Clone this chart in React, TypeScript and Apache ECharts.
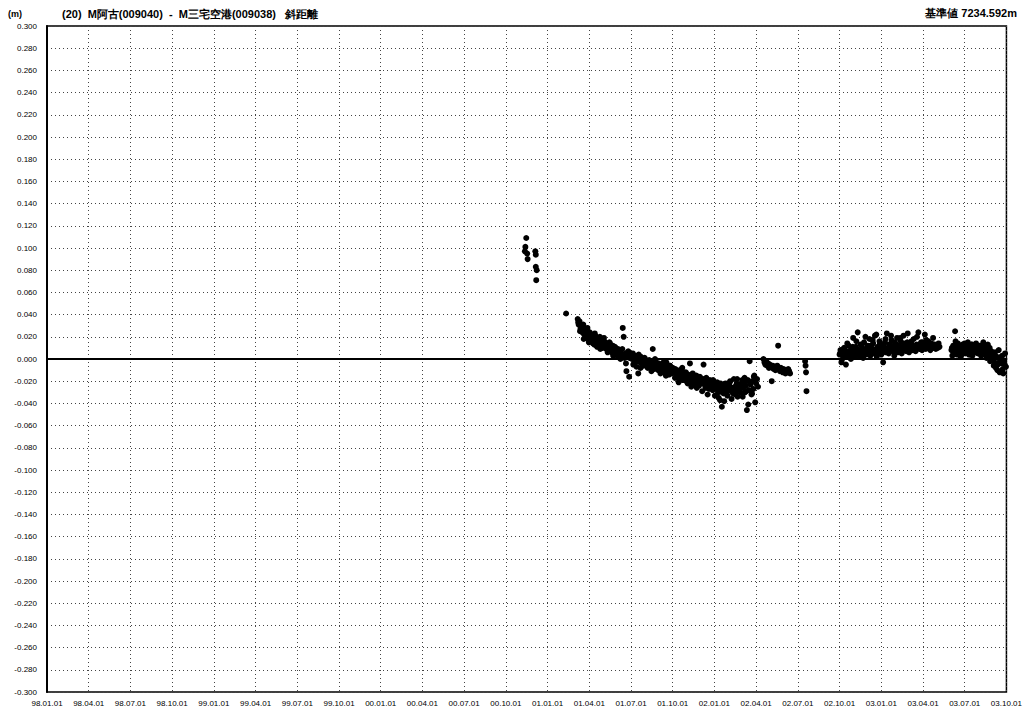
import React, { useEffect, useRef } from "react";
import * as echarts from "echarts";

// ---- Text ----
const TITLE = "(20)  M阿古(009040)  -  M三宅空港(009038)   斜距離";
const REFERENCE = "基準値 7234.592m";
const UNIT = "(m)";

// ---- X tick labels (quarterly, 98.01.01 .. 03.10.01) ----
const TICK_LABELS = [
  "98.01.01", "98.04.01", "98.07.01", "98.10.01",
  "99.01.01", "99.04.01", "99.07.01", "99.10.01",
  "00.01.01", "00.04.01", "00.07.01", "00.10.01",
  "01.01.01", "01.04.01", "01.07.01", "01.10.01",
  "02.01.01", "02.04.01", "02.07.01", "02.10.01",
  "03.01.01", "03.04.01", "03.07.01", "03.10.01",
];

// ---- Data (values in mm) ----
// isolated early points: [date, mm]
const EARLY_POINTS: [string, number][] = [
  ["2000-11-12", 97], ["2000-11-13", 101], ["2000-11-15", 109],
  ["2000-11-17", 95], ["2000-11-18", 90],
  ["2000-12-05", 97], ["2000-12-06", 94], ["2000-12-06", 83],
  ["2000-12-08", 80], ["2000-12-07", 71],
  ["2001-02-10", 41],
];

// series segments: start date, one value every 2 days
const SEG_A_START = "2001-03-07";
const SEG_A_MM = [
  36, 31, 34, 27, 29, 24, 31, 22, 26, 19, 27, 21, 15, 24, 20,
  22, 16, 19, 13, 21, 17, 11, 18, 15, 20, 12, 16, 10, 17, 14,
  15, 9, 13, 11, 7, 14, 10, 6, 12, 8, 4, 10, 7, 3, 9,
  6, 2, 8, 4, 28, 20, 1, 5, -11, 3, 7, -16, 2, 4, 0, 5,
  2, -2, 3, -7, 0, -13, 1, -3, 2, -4, -1, -6, 1, -3, -5,
  -2, -6, -1, -4, -8, -3, 9, -5, -9, -2, -6, -4, -10, -5, -7,
  -6, -10, -4, -8, -12, -7, -3, -11, -9, -14, -6, -10, -13, -8, -11,
  -12, -9, -16, -11, -14, -18, -10, -15, -13, -19, -12, -17, -14, -20, -16,
  -14, -18, -4, -16, -21, -13, -19, -17, -23, -15, -20, -18, -24, -16, -21,
  -18, -22, -5, -20, -25, -17, -23, -21, -27, -19, -24, -22, -28, -20, -25,
  -23, -27, -21, -30, -25, -37, -28, -43, -24, -31, -26, -22, -29, -33, -27,
  -24, -20, -28, -26, -31, -18, -25, -29, -22, -34, -27, -23, -30, -25, -19,
  -26, -21, -30, -24, -46, -19, -28, -2, -23, -32, -20, -27, -15, -39, -22, -18, -25,
];
// extra solutions in the same period, one every 4 days
const SEG_A2_START = "2001-03-08";
const SEG_A2_MM = [
  33, 25, 29, 18, 23, 28, 17,
  20, 14, 23, 12, 18, 9, 16, 19,
  12, 6, 15, 8, 3, 11, 5,
  7, 0, 9, 3, -4, 6, 1,
  3, -5, 1, -2, 4, -8, -1, -4,
  -1, -8, -3, -11, -5, 0, -7,
  -4, -13, -8, -2, -15, -10, -6, -12,
  -9, -17, -12, -21, -14, -8, -18,
  -12, -22, -17, -25, -14, -20, -26, -16,
  -21, -29, -18, -26, -32, -20, -24,
  -19, -33, -27, -35, -22, -30, -38, -25,
  -29, -21, -36, -26, -32, -18, -27,
  -24, -34, -17, -29, -41, -22, -31, -16,
];

const SEG_B_START = "2002-04-17";
const SEG_B_MM = [
  0, -3, -5, -2, -6, -4, -8, -5, -7, -20, -6, -9, -7, -10, -8,
  -6, 12, -9, -11, -8, -10, -12, -9, -11, -13, -10, -12, -9, -11, -13,
];

const MID_POINTS: [string, number][] = [
  ["2002-07-17", -2], ["2002-07-18", -6], ["2002-07-19", -12], ["2002-07-20", -29],
];

const SEG_C_START = "2002-10-01";
const SEG_C_MM = [
  4, 8, -3, 6, 2, 10, 5, -5, 7, 3, 12, 6, 1, 9, 4, 19,
  7, 2, 11, 5, 24, 8, 3, 13, 6, 10, 1, 15, 7, 4, 9,
  12, 6, 18, 3, 10, 7, 14, 5, 21, 9, 2, 11, 6, 16, 8,
  4, 12, -3, 9, 15, 6, 23, 10, 5, 13, 8, 17, 7, 11, 3,
  14, 9, 19, 6, 12, 10, 16, 5, 11, 21, 8, 13, 7, 15,
  10, 6, 14, 9, 12, 8, 18, 11, 7, 13, 10, 24, 9, 12, 15, 8,
  11, 14, 22, 9, 13, 10, 16, 12, 8, 14, 11, 19, 10, 13, 9,
  12, 10, 14, 11,
];
const SEG_C2_START = "2002-10-02";
const SEG_C2_MM = [
  5, -1, 9, 3, 14, 7, 0, 11, 5, 16, 8, 2, 13, 6, 20, 10, 4, 12,
  17, 7, 22, 9, 14, 5, 11, 18, 8, 13, 21, 10, 15, 7, 12, 19, 9,
  14, 11, 23, 8, 16, 12, 10, 20, 13, 9, 15, 11, 17, 12, 14, 10, 13,
];

const SEG_D_START = "2003-06-02";
const SEG_D_MM = [
  8, 3, 12, 6, 25, 10, 4, 14, 7, 11, 2, 9, 13, 6, 10,
  5, 12, 8, 15, 4, 10, 7, 13, 3, 9, 11, 6, 14, 8, 5, 10,
  7, 12, 4, 9, 15, 6, 11, 3, 8, 13, 5, 10, 2, 7, 0,
  4, -3, 6, -8, 2, -5, 8, -12, 0, -4, 3, -13, -2, 5, -7,
];
const SEG_D2_START = "2003-06-03";
const SEG_D2_MM = [
  10, 5, 16, 8, 12, 3, 9, 14, 6, 11, 4, 13, 8, 10, 6,
  12, 3, 9, 5, 1, 7, -2, 4, -6, 1, -10, -3, 2, -9, -5,
];

// ---- helpers ----
function quarterPos(t: number): number {
  const d = new Date(t);
  const y = d.getUTCFullYear();
  const qi = Math.floor(d.getUTCMonth() / 3);
  const start = Date.UTC(y, qi * 3, 1);
  const end = Date.UTC(y, qi * 3 + 3, 1);
  return (y - 1998) * 4 + qi + (t - start) / (end - start);
}
function parseDate(s: string): number {
  const [y, m, d] = s.split("-").map(Number);
  return Date.UTC(y, m - 1, d);
}
const DAY = 86400000;
function segPoints(start: string, step: number, vals: number[]): number[][] {
  const t0 = parseDate(start);
  return vals.map((v, i) => [quarterPos(t0 + i * step * DAY), v]);
}
function listPoints(list: [string, number][]): number[][] {
  return list.map(([s, v]) => [quarterPos(parseDate(s)), v]);
}

const FONT = "Liberation Sans, Arial, sans-serif";

export default function App() {
  const ref = useRef<HTMLDivElement>(null);
  useEffect(() => {
    if (!ref.current) return;
    const chart = echarts.init(ref.current, undefined, { renderer: "svg" });
    const allPoints = [
      ...listPoints(EARLY_POINTS),
      ...segPoints(SEG_A_START, 2, SEG_A_MM),
      ...segPoints(SEG_A2_START, 4, SEG_A2_MM),
      ...segPoints(SEG_B_START, 2, SEG_B_MM),
      ...listPoints(MID_POINTS),
      ...segPoints(SEG_C_START, 2, SEG_C_MM),
      ...segPoints(SEG_C2_START, 4, SEG_C2_MM),
      ...segPoints(SEG_D_START, 2, SEG_D_MM),
      ...segPoints(SEG_D2_START, 4, SEG_D2_MM),
    ];
    chart.setOption({
      animation: false,
      backgroundColor: "#ffffff",
      grid: {
        left: 47,
        right: 8,
        top: 26,
        bottom: 22,
        show: true,
        borderColor: "#000",
        borderWidth: 1.5,
        backgroundColor: "transparent",
      },
      graphic: [
        {
          type: "text",
          left: 8,
          top: 9,
          style: { text: UNIT, font: `bold 9px ${FONT}`, fill: "#000" },
        },
        {
          type: "text",
          left: 62,
          top: 8,
          style: { text: TITLE, font: `bold 11px ${FONT}`, fill: "#000" },
        },
        {
          type: "text",
          right: 8,
          top: 7,
          style: { text: REFERENCE, font: `bold 11px ${FONT}`, fill: "#000" },
        },
      ],
      xAxis: {
        type: "value",
        min: 0,
        max: 23,
        interval: 1,
        axisLine: { show: true, lineStyle: { color: "#000", width: 2 } },
        axisTick: { show: false },
        axisLabel: {
          color: "#000",
          fontSize: 8,
          fontFamily: FONT,
          margin: 7,
          formatter: (v: number) => TICK_LABELS[Math.round(v)] ?? "",
        },
        splitLine: {
          show: true,
          lineStyle: { color: "#444", type: [1, 3], width: 1 },
        },
      },
      yAxis: {
        type: "value",
        min: -300,
        max: 300,
        interval: 20,
        axisLine: { show: true, lineStyle: { color: "#000", width: 2 } },
        axisTick: { show: false },
        axisLabel: {
          color: "#000",
          fontSize: 8,
          fontFamily: FONT,
          margin: 10,
          formatter: (v: number) => (v / 1000).toFixed(3),
        },
        splitLine: {
          show: true,
          lineStyle: { color: "#444", type: [1, 3], width: 1 },
        },
      },
      series: [
        {
          type: "scatter",
          data: allPoints,
          symbol: "circle",
          symbolSize: 6,
          itemStyle: { color: "#000", opacity: 1 },
          markLine: {
            silent: true,
            symbol: "none",
            label: { show: false },
            lineStyle: { color: "#000", type: "solid", width: 1.5 },
            data: [{ yAxis: 0 }],
          },
        },
      ],
    });
    return () => chart.dispose();
  }, []);
  return (
    <div
      ref={ref}
      style={{ position: "absolute", left: 0, top: 0, width: 1025, height: 714 }}
    />
  );
}
